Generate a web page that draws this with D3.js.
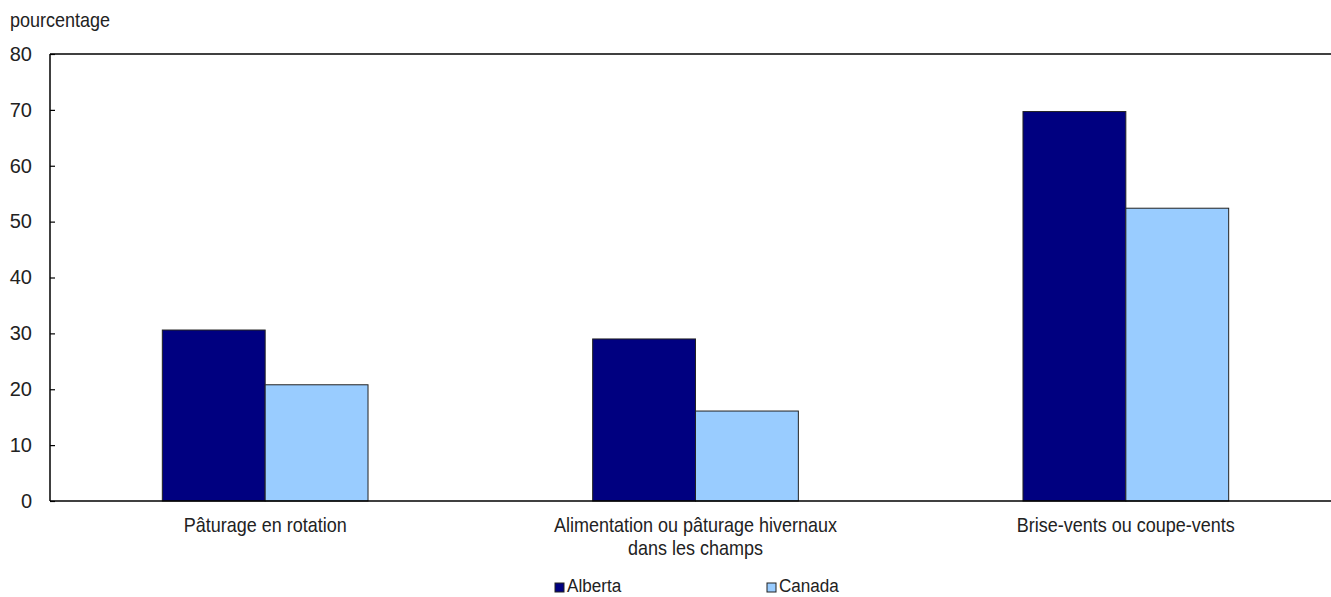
<!DOCTYPE html>
<html>
<head>
<meta charset="utf-8">
<script src="https://cdn.jsdelivr.net/npm/d3@7"></script>
<style>
  body { margin: 0; background: #fff; }
  text { font-family: "Liberation Sans", Arial, sans-serif; fill: #222; }
</style>
</head>
<body>
<svg id="chart" width="1331" height="597"></svg>
<script>
var categories = [
  ["Pâturage en rotation"],
  ["Alimentation ou pâturage hivernaux", "dans les champs"],
  ["Brise-vents ou coupe-vents"]
];
var seriesNames = ["Alberta", "Canada"];
var alberta = [30.6, 29.0, 69.7];
var canada = [20.8, 16.1, 52.4];
var yTicks = [0, 10, 20, 30, 40, 50, 60, 70, 80];
var colors = ["#000080", "#99ccff"];

var svg = d3.select("#chart"),
  MARGINS = { top: 54, left: 50, bottom: 501, right: 1341 },
  NARROW = 0.9;

// condensed-looking text: scale horizontally around the anchor point
function label(x, yPos, size, anchor) {
  return svg.append("g")
    .attr("transform", "translate(" + x + "," + yPos + ") scale(" + NARROW + ",1)")
    .append("text")
    .attr("text-anchor", anchor || "start")
    .style("font-size", size + "px");
}

var x0 = d3.scaleBand()
  .domain(d3.range(categories.length))
  .range([MARGINS.left, MARGINS.right])
  .padding(0);

var x1 = d3.scaleBand()
  .domain(seriesNames)
  .range([x0.bandwidth() * 0.261, x0.bandwidth() * 0.739])
  .padding(0);

var y = d3.scaleLinear()
  .domain([0, 80])
  .range([MARGINS.bottom, MARGINS.top]);

var values = [alberta, canada];

// bars
seriesNames.forEach(function (s, si) {
  svg.append("g")
    .selectAll("rect")
    .data(values[si])
    .enter().append("rect")
    .attr("x", function (d, i) { return x0(i) + x1(s); })
    .attr("y", function (d) { return y(d); })
    .attr("width", x1.bandwidth())
    .attr("height", function (d) { return y(0) - y(d); })
    .attr("fill", colors[si])
    .attr("stroke", "#222")
    .attr("stroke-width", 1);
});

// frame: top line, left axis, bottom axis
svg.append("line")
  .attr("x1", MARGINS.left).attr("x2", 1331)
  .attr("y1", y(80)).attr("y2", y(80))
  .attr("stroke", "#000").attr("stroke-width", 1.5);

var yAxis = svg.append("g")
  .attr("transform", "translate(" + MARGINS.left + ",0)")
  .call(d3.axisRight(y).tickValues(yTicks).tickSize(5).tickFormat(""));
yAxis.select(".domain").remove();
yAxis.selectAll("line").attr("stroke", "#000").attr("stroke-width", 1.2);

svg.append("line")
  .attr("x1", MARGINS.left).attr("x2", MARGINS.left)
  .attr("y1", y(80)).attr("y2", y(0))
  .attr("stroke", "#000").attr("stroke-width", 1.5);

svg.append("line")
  .attr("x1", MARGINS.left).attr("x2", 1331)
  .attr("y1", y(0)).attr("y2", y(0))
  .attr("stroke", "#000").attr("stroke-width", 1.5);

// y tick labels
svg.append("g")
  .selectAll("text")
  .data(yTicks)
  .enter().append("text")
  .attr("x", 32)
  .attr("y", function (d) { return y(d); })
  .attr("dy", "0.34em")
  .attr("text-anchor", "end")
  .style("font-size", "20px")
  .text(function (d) { return d; });

label(10, 27, 20).text("pourcentage");

// category labels
categories.forEach(function (lines, i) {
  lines.forEach(function (l, li) {
    label(x0(i) + x0.bandwidth() / 2, 532 + li * 23, 20, "middle").text(l);
  });
});

// legend
var legendX = [555, 767];
seriesNames.forEach(function (s, si) {
  svg.append("rect")
    .attr("x", legendX[si]).attr("y", 583)
    .attr("width", 9).attr("height", 9)
    .attr("fill", colors[si])
    .attr("stroke", "#222").attr("stroke-width", 1);
  label(legendX[si] + 12, 592, 19).text(s);
});
</script>
</body>
</html>
